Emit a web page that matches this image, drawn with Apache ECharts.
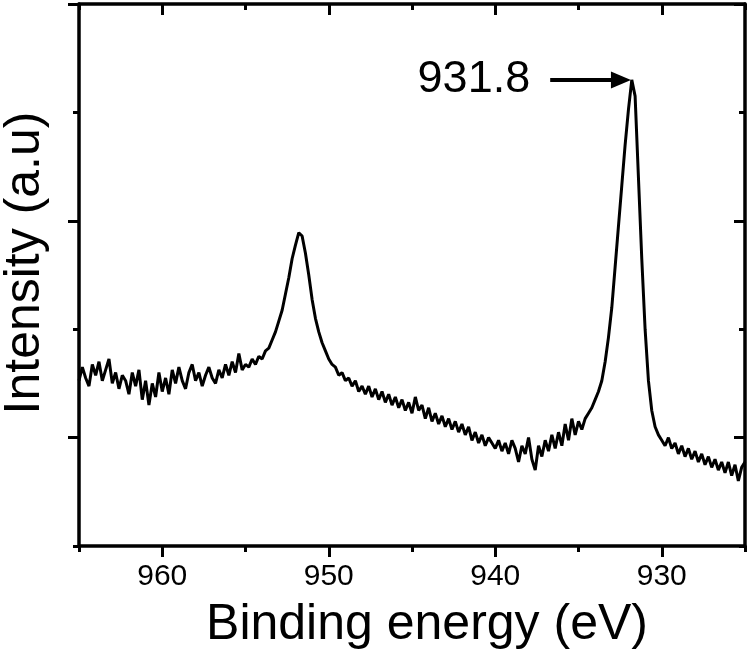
<!DOCTYPE html>
<html>
<head>
<meta charset="utf-8">
<script src="https://cdn.jsdelivr.net/npm/echarts@6/dist/echarts.min.js"></script>
<style>
  html, body { margin: 0; padding: 0; background: #fff; }
  #chart { width: 750px; height: 657px; }
</style>
</head>
<body>
<div id="chart"></div>
<script>
// binding energy (eV), high -> low
var energy = [
  965.0,964.8,964.6,964.4,964.2,964.0,963.8,963.6,963.4,963.2,963.0,962.8,962.6,962.4,962.2,962.0,961.8,961.6,961.4,961.2,
  961.0,960.8,960.6,960.4,960.2,960.0,959.8,959.6,959.4,959.2,959.0,958.8,958.6,958.4,958.2,958.0,957.8,957.6,957.4,957.2,
  957.0,956.8,956.6,956.4,956.2,956.0,955.8,955.6,955.4,955.2,955.0,954.8,954.6,954.4,954.2,954.0,953.8,953.6,953.4,953.2,
  953.0,952.8,952.6,952.4,952.2,952.0,951.8,951.6,951.4,951.2,951.0,950.8,950.6,950.4,950.2,950.0,949.8,949.6,949.4,949.2,
  949.0,948.8,948.6,948.4,948.2,948.0,947.8,947.6,947.4,947.2,947.0,946.8,946.6,946.4,946.2,946.0,945.8,945.6,945.4,945.2,
  945.0,944.8,944.6,944.4,944.2,944.0,943.8,943.6,943.4,943.2,943.0,942.8,942.6,942.4,942.2,942.0,941.8,941.6,941.4,941.2,
  941.0,940.8,940.6,940.4,940.2,940.0,939.8,939.6,939.4,939.2,939.0,938.8,938.6,938.4,938.2,938.0,937.8,937.6,937.4,937.2,
  937.0,936.8,936.6,936.4,936.2,936.0,935.8,935.6,935.4,935.2,935.0,934.8,934.6,934.4,934.2,934.0,933.8,933.6,933.4,933.2,
  933.0,932.8,932.6,932.4,932.2,932.0,931.8,931.6,931.4,931.2,931.0,930.8,930.6,930.4,930.2,930.0,929.8,929.6,929.4,929.2,
  929.0,928.8,928.6,928.4,928.2,928.0,927.8,927.6,927.4,927.2,927.0,926.8,926.6,926.4,926.2,926.0,925.8,925.6,925.4,925.2,
  925.0
];

// intensity (a.u)
var intensity = [
  3.05,3.30,3.10,2.95,3.35,3.15,3.40,3.05,3.25,3.45,3.00,3.20,2.90,3.15,3.05,2.80,3.20,2.95,3.25,2.70,
  3.05,2.60,3.00,2.75,3.20,2.85,3.10,2.80,3.25,3.00,3.30,3.05,2.90,3.20,3.35,3.05,3.20,2.95,3.15,3.30,
  3.10,3.00,3.25,3.10,3.35,3.15,3.40,3.20,3.55,3.25,3.35,3.30,3.45,3.35,3.50,3.45,3.60,3.65,3.80,3.95,
  4.15,4.35,4.65,4.95,5.30,5.55,5.78,5.72,5.40,5.00,4.55,4.20,3.95,3.75,3.60,3.45,3.35,3.30,3.15,3.20,
  3.05,3.10,2.95,3.05,2.85,2.95,2.80,2.95,2.75,2.90,2.70,2.85,2.65,2.80,2.60,2.75,2.55,2.70,2.50,2.65,
  2.45,2.75,2.50,2.60,2.35,2.55,2.30,2.45,2.25,2.40,2.20,2.35,2.15,2.30,2.10,2.25,2.05,2.20,1.95,2.10,
  1.90,2.05,1.85,2.00,1.90,1.80,1.95,1.75,1.90,1.70,1.95,1.80,1.55,1.85,1.70,2.00,1.60,1.40,1.85,1.65,
  1.95,1.75,2.05,1.80,2.10,1.85,2.25,1.95,2.35,2.05,2.30,2.15,2.35,2.45,2.55,2.70,2.85,3.05,3.40,3.85,
  4.40,5.15,5.90,6.65,7.40,8.05,8.60,8.30,6.80,5.30,4.00,3.05,2.50,2.20,2.05,1.95,1.85,2.00,1.80,1.90,
  1.70,1.85,1.65,1.80,1.60,1.75,1.55,1.70,1.50,1.65,1.45,1.60,1.40,1.55,1.35,1.55,1.30,1.50,1.20,1.45,
  1.55
];

var majorX = [930, 940, 950, 960];
var majorY = [2, 6, 10];

var peakLabel = '931.8';
var arrowFrom = [936.7, 8.6];
var arrowTo = [932.45, 8.6];

var seriesData = energy.map(function (e, i) { return [e, intensity[i]]; });

var FONT = 'Liberation Sans';
var lineW = 3.5;

function xAx(pos, inside, len, custom, showLine, labels) {
  var a = {
    type: 'value', position: pos, min: 925, max: 965, interval: 5, inverse: true,
    axisLine: { show: showLine, onZero: false, lineStyle: { color: '#000', width: lineW } },
    axisTick: { show: true, inside: inside, length: len, lineStyle: { color: '#000', width: 3 } },
    axisLabel: { show: false },
    splitLine: { show: false }
  };
  if (custom) a.axisTick.customValues = custom;
  if (labels) {
    a.axisLabel = {
      show: true, customValues: majorX, color: '#000',
      fontFamily: FONT, fontSize: 30, margin: 16
    };
  }
  return a;
}

function yAx(pos, inside, len, custom, showLine) {
  var a = {
    type: 'value', position: pos, min: 0, max: 10, interval: 2,
    axisLine: { show: showLine, onZero: false, lineStyle: { color: '#000', width: lineW } },
    axisTick: { show: true, inside: inside, length: len, lineStyle: { color: '#000', width: 3 } },
    axisLabel: { show: false },
    splitLine: { show: false }
  };
  if (custom) a.axisTick.customValues = custom;
  return a;
}

var xAxes = [
  xAx('bottom', false, 6, null, true, true),
  xAx('bottom', false, 11, majorX, false, false),
  xAx('top', true, 6, null, true, false),
  xAx('top', true, 11, majorX, false, false)
];
xAxes[0].name = 'Binding energy (eV)';
xAxes[0].nameLocation = 'middle';
xAxes[0].nameGap = 54;
xAxes[0].nameTextStyle = { color: '#000', fontFamily: FONT, fontSize: 50, padding: [0, 0, 0, 30] };

var yAxes = [
  yAx('left', false, 6, null, true),
  yAx('left', false, 11, majorY, false),
  yAx('right', true, 6, null, true),
  yAx('right', true, 11, majorY, false)
];
yAxes[0].name = 'Intensity (a.u)';
yAxes[0].nameLocation = 'middle';
yAxes[0].nameGap = 29;
yAxes[0].nameTextStyle = { color: '#000', fontFamily: FONT, fontSize: 50, padding: [0, 0, 0, 24] };

var chart = echarts.init(document.getElementById('chart'), null, { renderer: 'canvas' });
chart.setOption({
  animation: false,
  backgroundColor: '#fff',
  grid: { left: 79, right: 5, top: 4, bottom: 111, containLabel: false, outerBoundsMode: 'none' },
  xAxis: xAxes,
  yAxis: yAxes,
  series: [{
    type: 'line',
    xAxisIndex: 0,
    yAxisIndex: 0,
    data: seriesData,
    showSymbol: false,
    symbol: 'none',
    lineStyle: { color: '#000', width: 3 },
    silent: true,
    markLine: {
      silent: true,
      symbol: ['none', 'triangle'],
      symbolSize: [17, 20],
      lineStyle: { color: '#000', width: 4, type: 'solid' },
      label: {
        show: true, position: 'start', distance: 20,
        formatter: peakLabel, color: '#000', fontFamily: FONT, fontSize: 45
      },
      emphasis: { disabled: true },
      data: [[{ coord: arrowFrom }, { coord: arrowTo }]]
    }
  }]
});
</script>
</body>
</html>
